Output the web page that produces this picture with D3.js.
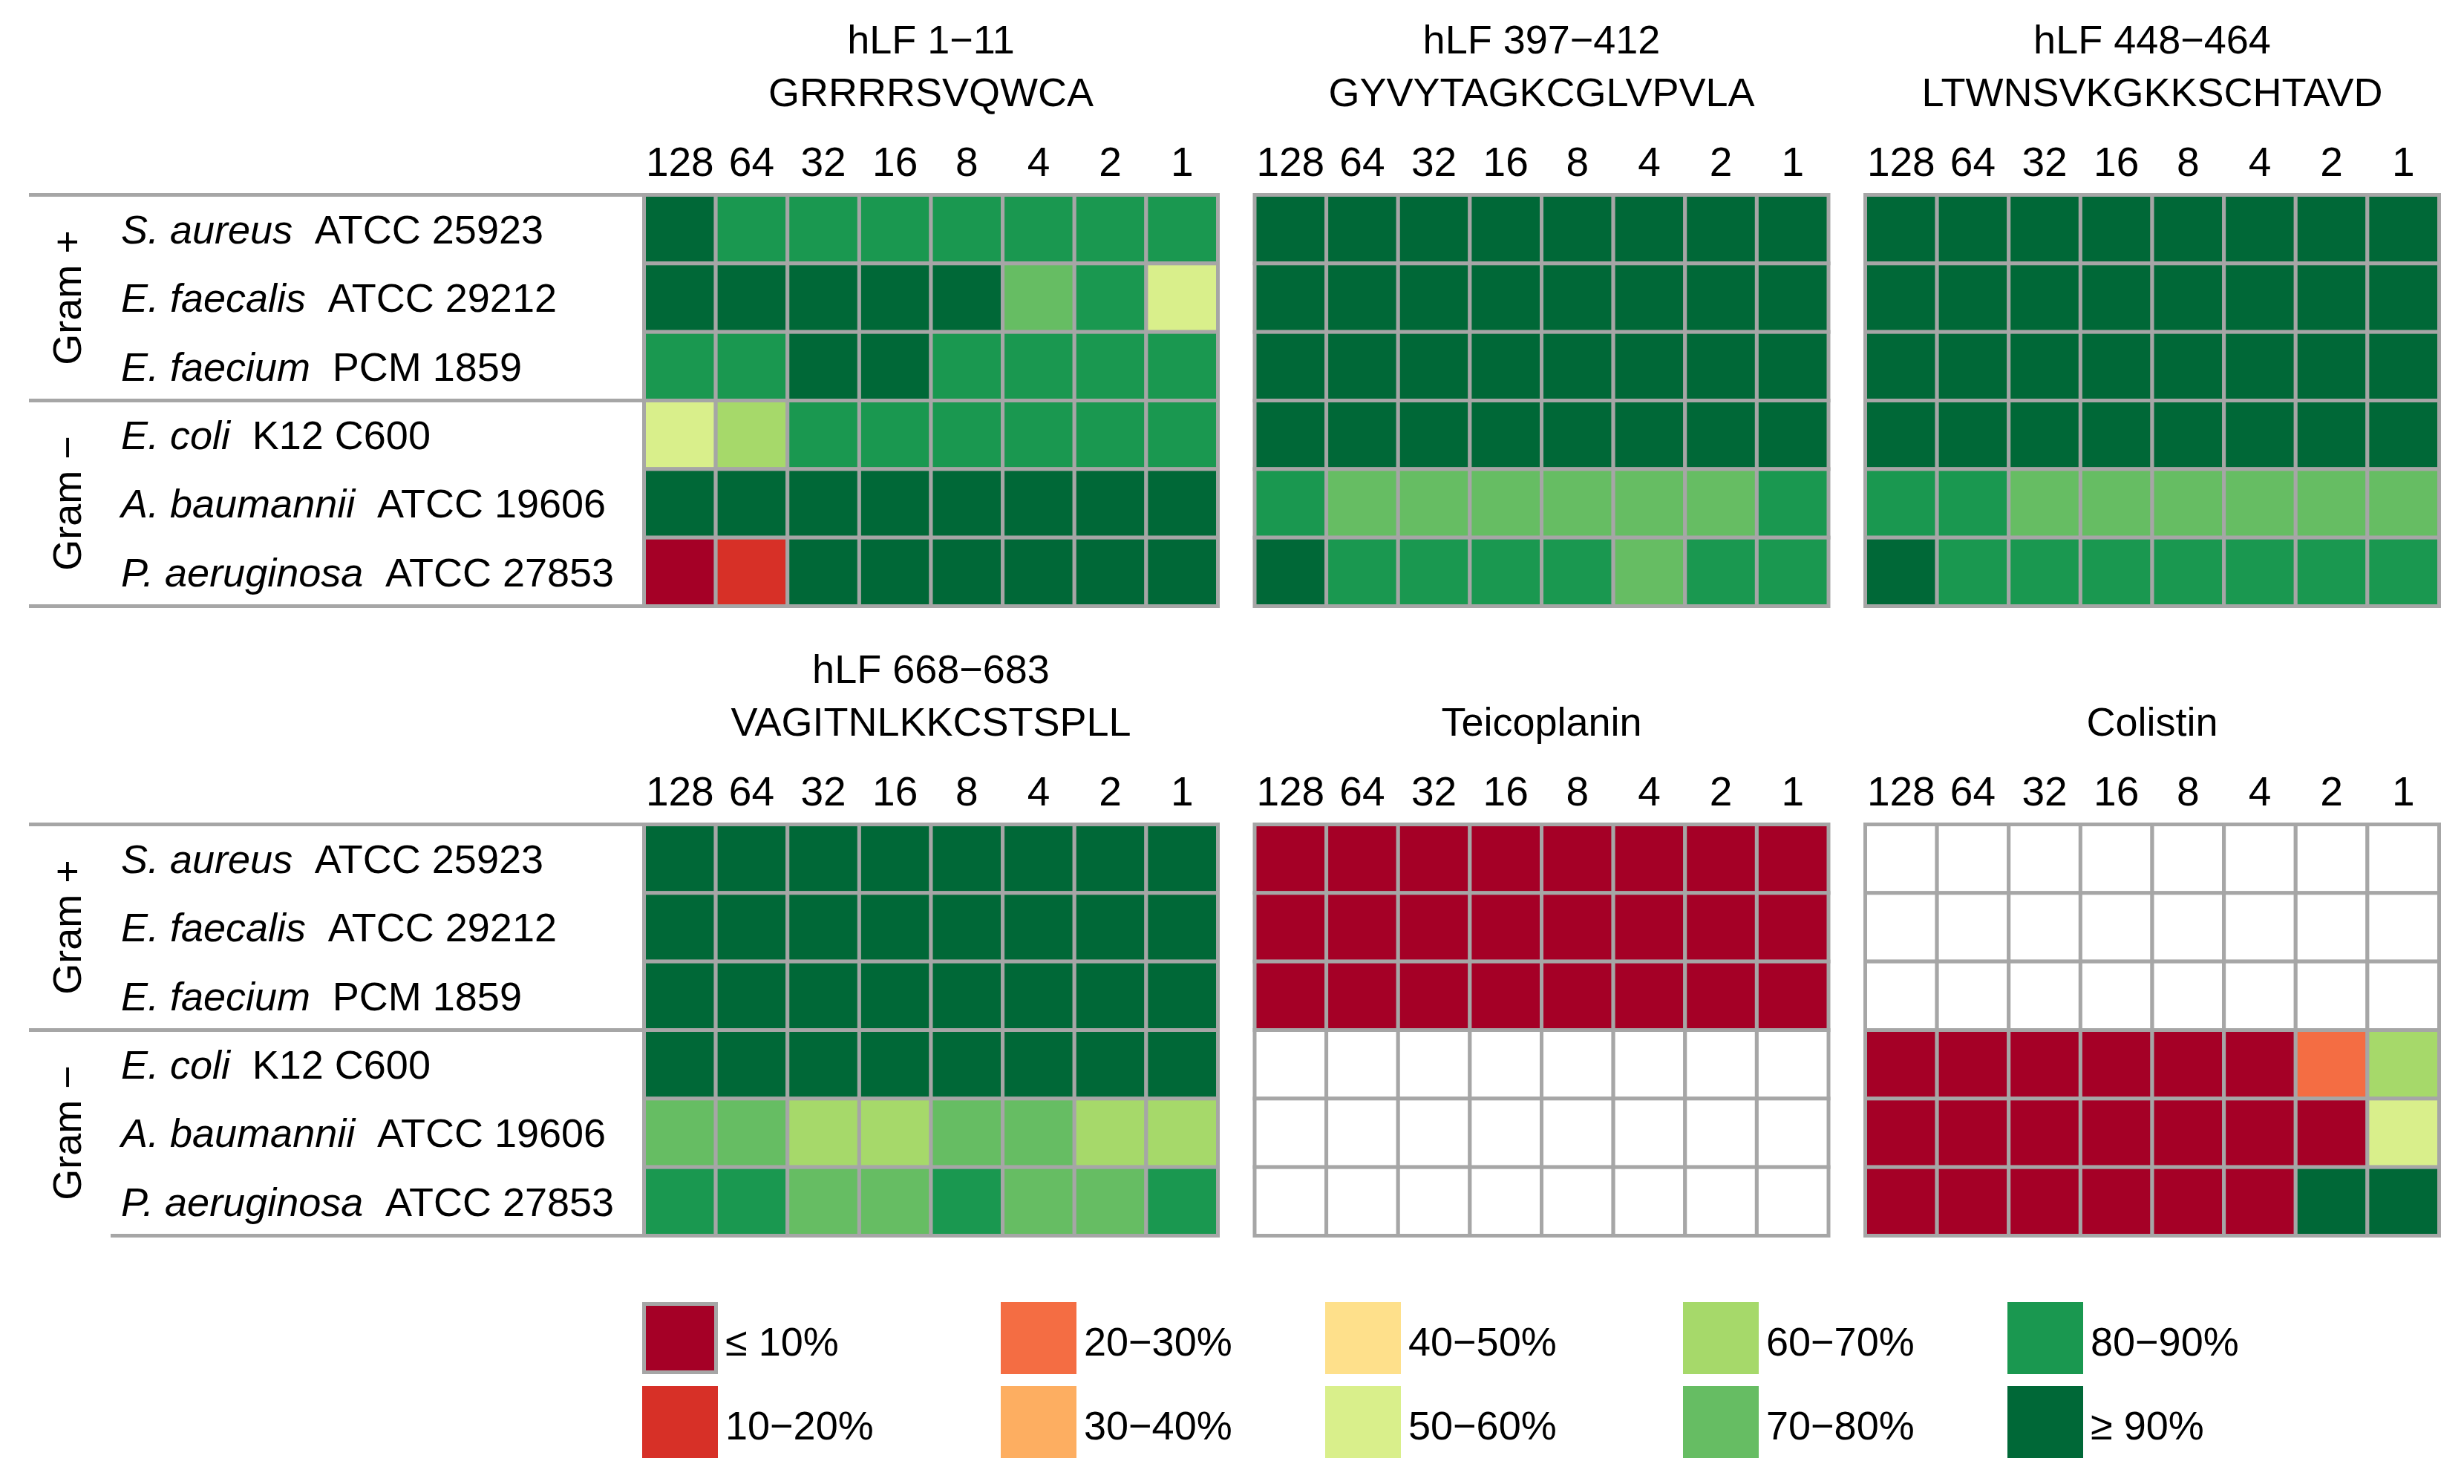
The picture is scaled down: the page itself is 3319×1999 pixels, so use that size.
<!DOCTYPE html>
<html>
<head>
<meta charset="utf-8">
<script src="https://cdn.jsdelivr.net/npm/d3@7"></script>
<style>
  body { margin: 0; background: #fff; }
  svg text { font-family: "Liberation Sans", Arial, sans-serif; fill: #000; }
</style>
</head>
<body>
<svg id="chart" width="3319" height="1999"></svg>
<script>
// MIC-style heatmap: survival class per strain x concentration, one panel per compound.
// Values are class indexes into the legend (0 = <=10%, 9 = >=90%), null = not tested.

const concentrations = ['128', '64', '32', '16', '8', '4', '2', '1'];
const speciesNames = ['S. aureus', 'E. faecalis', 'E. faecium', 'E. coli', 'A. baumannii', 'P. aeruginosa'];
const strainCodes = ['ATCC 25923', 'ATCC 29212', 'PCM 1859', 'K12 C600', 'ATCC 19606', 'ATCC 27853'];
const gramGroups = ['Gram +', 'Gram \u2212'];
const gramRows = [[0, 3], [3, 6]];

const panelTitles = [
  ['hLF 1\u221211', 'GRRRRSVQWCA'],
  ['hLF 397\u2212412', 'GYVYTAGKCGLVPVLA'],
  ['hLF 448\u2212464', 'LTWNSVKGKKSCHTAVD'],
  ['hLF 668\u2212683', 'VAGITNLKKCSTSPLL'],
  ['Teicoplanin'],
  ['Colistin']
];

const hLF_1_11 = [
  [9, 8, 8, 8, 8, 8, 8, 8],
  [9, 9, 9, 9, 9, 7, 8, 5],
  [8, 8, 9, 9, 8, 8, 8, 8],
  [5, 6, 8, 8, 8, 8, 8, 8],
  [9, 9, 9, 9, 9, 9, 9, 9],
  [0, 1, 9, 9, 9, 9, 9, 9]
];
const hLF_397_412 = [
  [9, 9, 9, 9, 9, 9, 9, 9],
  [9, 9, 9, 9, 9, 9, 9, 9],
  [9, 9, 9, 9, 9, 9, 9, 9],
  [9, 9, 9, 9, 9, 9, 9, 9],
  [8, 7, 7, 7, 7, 7, 7, 8],
  [9, 8, 8, 8, 8, 7, 8, 8]
];
const hLF_448_464 = [
  [9, 9, 9, 9, 9, 9, 9, 9],
  [9, 9, 9, 9, 9, 9, 9, 9],
  [9, 9, 9, 9, 9, 9, 9, 9],
  [9, 9, 9, 9, 9, 9, 9, 9],
  [8, 8, 7, 7, 7, 7, 7, 7],
  [9, 8, 8, 8, 8, 8, 8, 8]
];
const hLF_668_683 = [
  [9, 9, 9, 9, 9, 9, 9, 9],
  [9, 9, 9, 9, 9, 9, 9, 9],
  [9, 9, 9, 9, 9, 9, 9, 9],
  [9, 9, 9, 9, 9, 9, 9, 9],
  [7, 7, 6, 6, 7, 7, 6, 6],
  [8, 8, 7, 7, 8, 7, 7, 8]
];
const teicoplanin = [
  [0, 0, 0, 0, 0, 0, 0, 0],
  [0, 0, 0, 0, 0, 0, 0, 0],
  [0, 0, 0, 0, 0, 0, 0, 0],
  [null, null, null, null, null, null, null, null],
  [null, null, null, null, null, null, null, null],
  [null, null, null, null, null, null, null, null]
];
const colistin = [
  [null, null, null, null, null, null, null, null],
  [null, null, null, null, null, null, null, null],
  [null, null, null, null, null, null, null, null],
  [0, 0, 0, 0, 0, 0, 2, 6],
  [0, 0, 0, 0, 0, 0, 0, 5],
  [0, 0, 0, 0, 0, 0, 9, 9]
];
const panelValues = [hLF_1_11, hLF_397_412, hLF_448_464, hLF_668_683, teicoplanin, colistin];

const legendLabels = ['\u2264 10%', '10\u221220%', '20\u221230%', '30\u221240%', '40\u221250%',
  '50\u221260%', '60\u221270%', '70\u221280%', '80\u221290%', '\u2265 90%'];
const legendColors = ['#a50026', '#d73027', '#f46d43', '#fdae61', '#fee08b',
  '#d9ef8b', '#a6d96a', '#66bd63', '#1a9850', '#006837'];

// ---- layout
const GRID = '#a6a6a6';
const LINE_W = 5;
const FS = 54;
const panelLeft = 867.5, panelW = 773, panelGap = 49.5;
const rowTops = [262.5, 1110.5];
const panelH = 554;
const labelLineStart = 39;
const legendColX = [865, 1348, 1785, 2267, 2704];
const legendRowY = [1754, 1867];
const legendBox = { w: 102, h: 97 };

const svg = d3.select('#chart');
const color = d3.scaleOrdinal().domain(d3.range(legendColors.length)).range(legendColors);

const x = d3.scaleBand().domain(concentrations).range([0, panelW]);
const y = d3.scaleBand().domain(d3.range(speciesNames.length)).range([0, panelH]);
const panelCol = d3.scaleLinear().domain([0, 1]).range([panelLeft, panelLeft + panelW + panelGap]);

panelValues.forEach((vals, p) => {
  const col = p % 3, row = Math.floor(p / 3);
  const g = svg.append('g').attr('transform', `translate(${panelCol(col)},${rowTops[row]})`);

  const cells = [];
  vals.forEach((r, i) => r.forEach((v, j) => cells.push({ i, j, v })));

  g.selectAll('rect.cell').data(cells).join('rect')
    .attr('class', 'cell')
    .attr('x', d => x(concentrations[d.j]))
    .attr('y', d => y(d.i))
    .attr('width', x.bandwidth())
    .attr('height', y.bandwidth())
    .attr('fill', d => d.v == null ? '#fff' : color(d.v))
    .attr('stroke', GRID)
    .attr('stroke-width', LINE_W);

  // column labels
  g.selectAll('text.conc').data(concentrations).join('text')
    .attr('class', 'conc')
    .attr('x', d => x(d) + x.bandwidth() / 2)
    .attr('y', -26)
    .attr('text-anchor', 'middle')
    .style('font-size', '55px')
    .text(d => d);

  // title (one or two lines, last line sits at the same height)
  const t = panelTitles[p];
  g.selectAll('text.title').data(t).join('text')
    .attr('class', 'title')
    .attr('x', panelW / 2)
    .attr('y', (d, k) => -120 - (t.length - 1 - k) * 71)
    .attr('text-anchor', 'middle')
    .style('font-size', FS + 'px')
    .text(d => d);
});

// row labels + group separators, once per row of panels
rowTops.forEach((top, r) => {
  const g = svg.append('g').attr('transform', `translate(0,${top})`);

  const lab = g.selectAll('text.strain').data(speciesNames).join('text')
    .attr('class', 'strain')
    .attr('x', 163)
    .attr('y', (d, i) => y(i) + y.bandwidth() / 2)
    .attr('dy', '0.36em')
    .style('font-size', FS + 'px');
  lab.append('tspan').style('font-style', 'italic').text(d => d);
  lab.append('tspan').attr('dx', '0.55em').text((d, i) => strainCodes[i]);

  g.selectAll('text.gram').data(gramGroups).join('text')
    .attr('class', 'gram')
    .attr('transform', (d, k) => `translate(90,${(y(gramRows[k][0]) + y(gramRows[k][1] - 1) + y.bandwidth()) / 2}) rotate(-90)`)
    .attr('text-anchor', 'middle')
    .attr('dy', '0.36em')
    .style('font-size', '54px')
    .text(d => d);

  const seps = [0, 3, 6];
  g.selectAll('line.sep').data(seps).join('line')
    .attr('class', 'sep')
    .attr('x1', d => (r === 1 && d === 6) ? 149 : labelLineStart)
    .attr('x2', panelLeft)
    .attr('y1', d => d === 6 ? panelH : y(d))
    .attr('y2', d => d === 6 ? panelH : y(d))
    .attr('stroke', GRID)
    .attr('stroke-width', LINE_W);
});

// legend: two rows, filled column by column
const legend = svg.append('g').selectAll('g.item').data(legendLabels).join('g')
  .attr('class', 'item')
  .attr('transform', (d, i) => `translate(${legendColX[Math.floor(i / 2)]},${legendRowY[i % 2]})`);
legend.append('rect')
  .attr('x', (d, i) => i === 0 ? LINE_W / 2 : 0)
  .attr('y', (d, i) => i === 0 ? LINE_W / 2 : 0)
  .attr('width', (d, i) => i === 0 ? legendBox.w - LINE_W : legendBox.w)
  .attr('height', (d, i) => i === 0 ? legendBox.h - LINE_W : legendBox.h)
  .attr('fill', (d, i) => color(i))
  .attr('stroke', (d, i) => i === 0 ? GRID : 'none')
  .attr('stroke-width', LINE_W);
legend.append('text')
  .attr('x', legendBox.w + 10)
  .attr('y', 72)
  .style('font-size', FS + 'px')
  .text(d => d);
</script>
</body>
</html>
